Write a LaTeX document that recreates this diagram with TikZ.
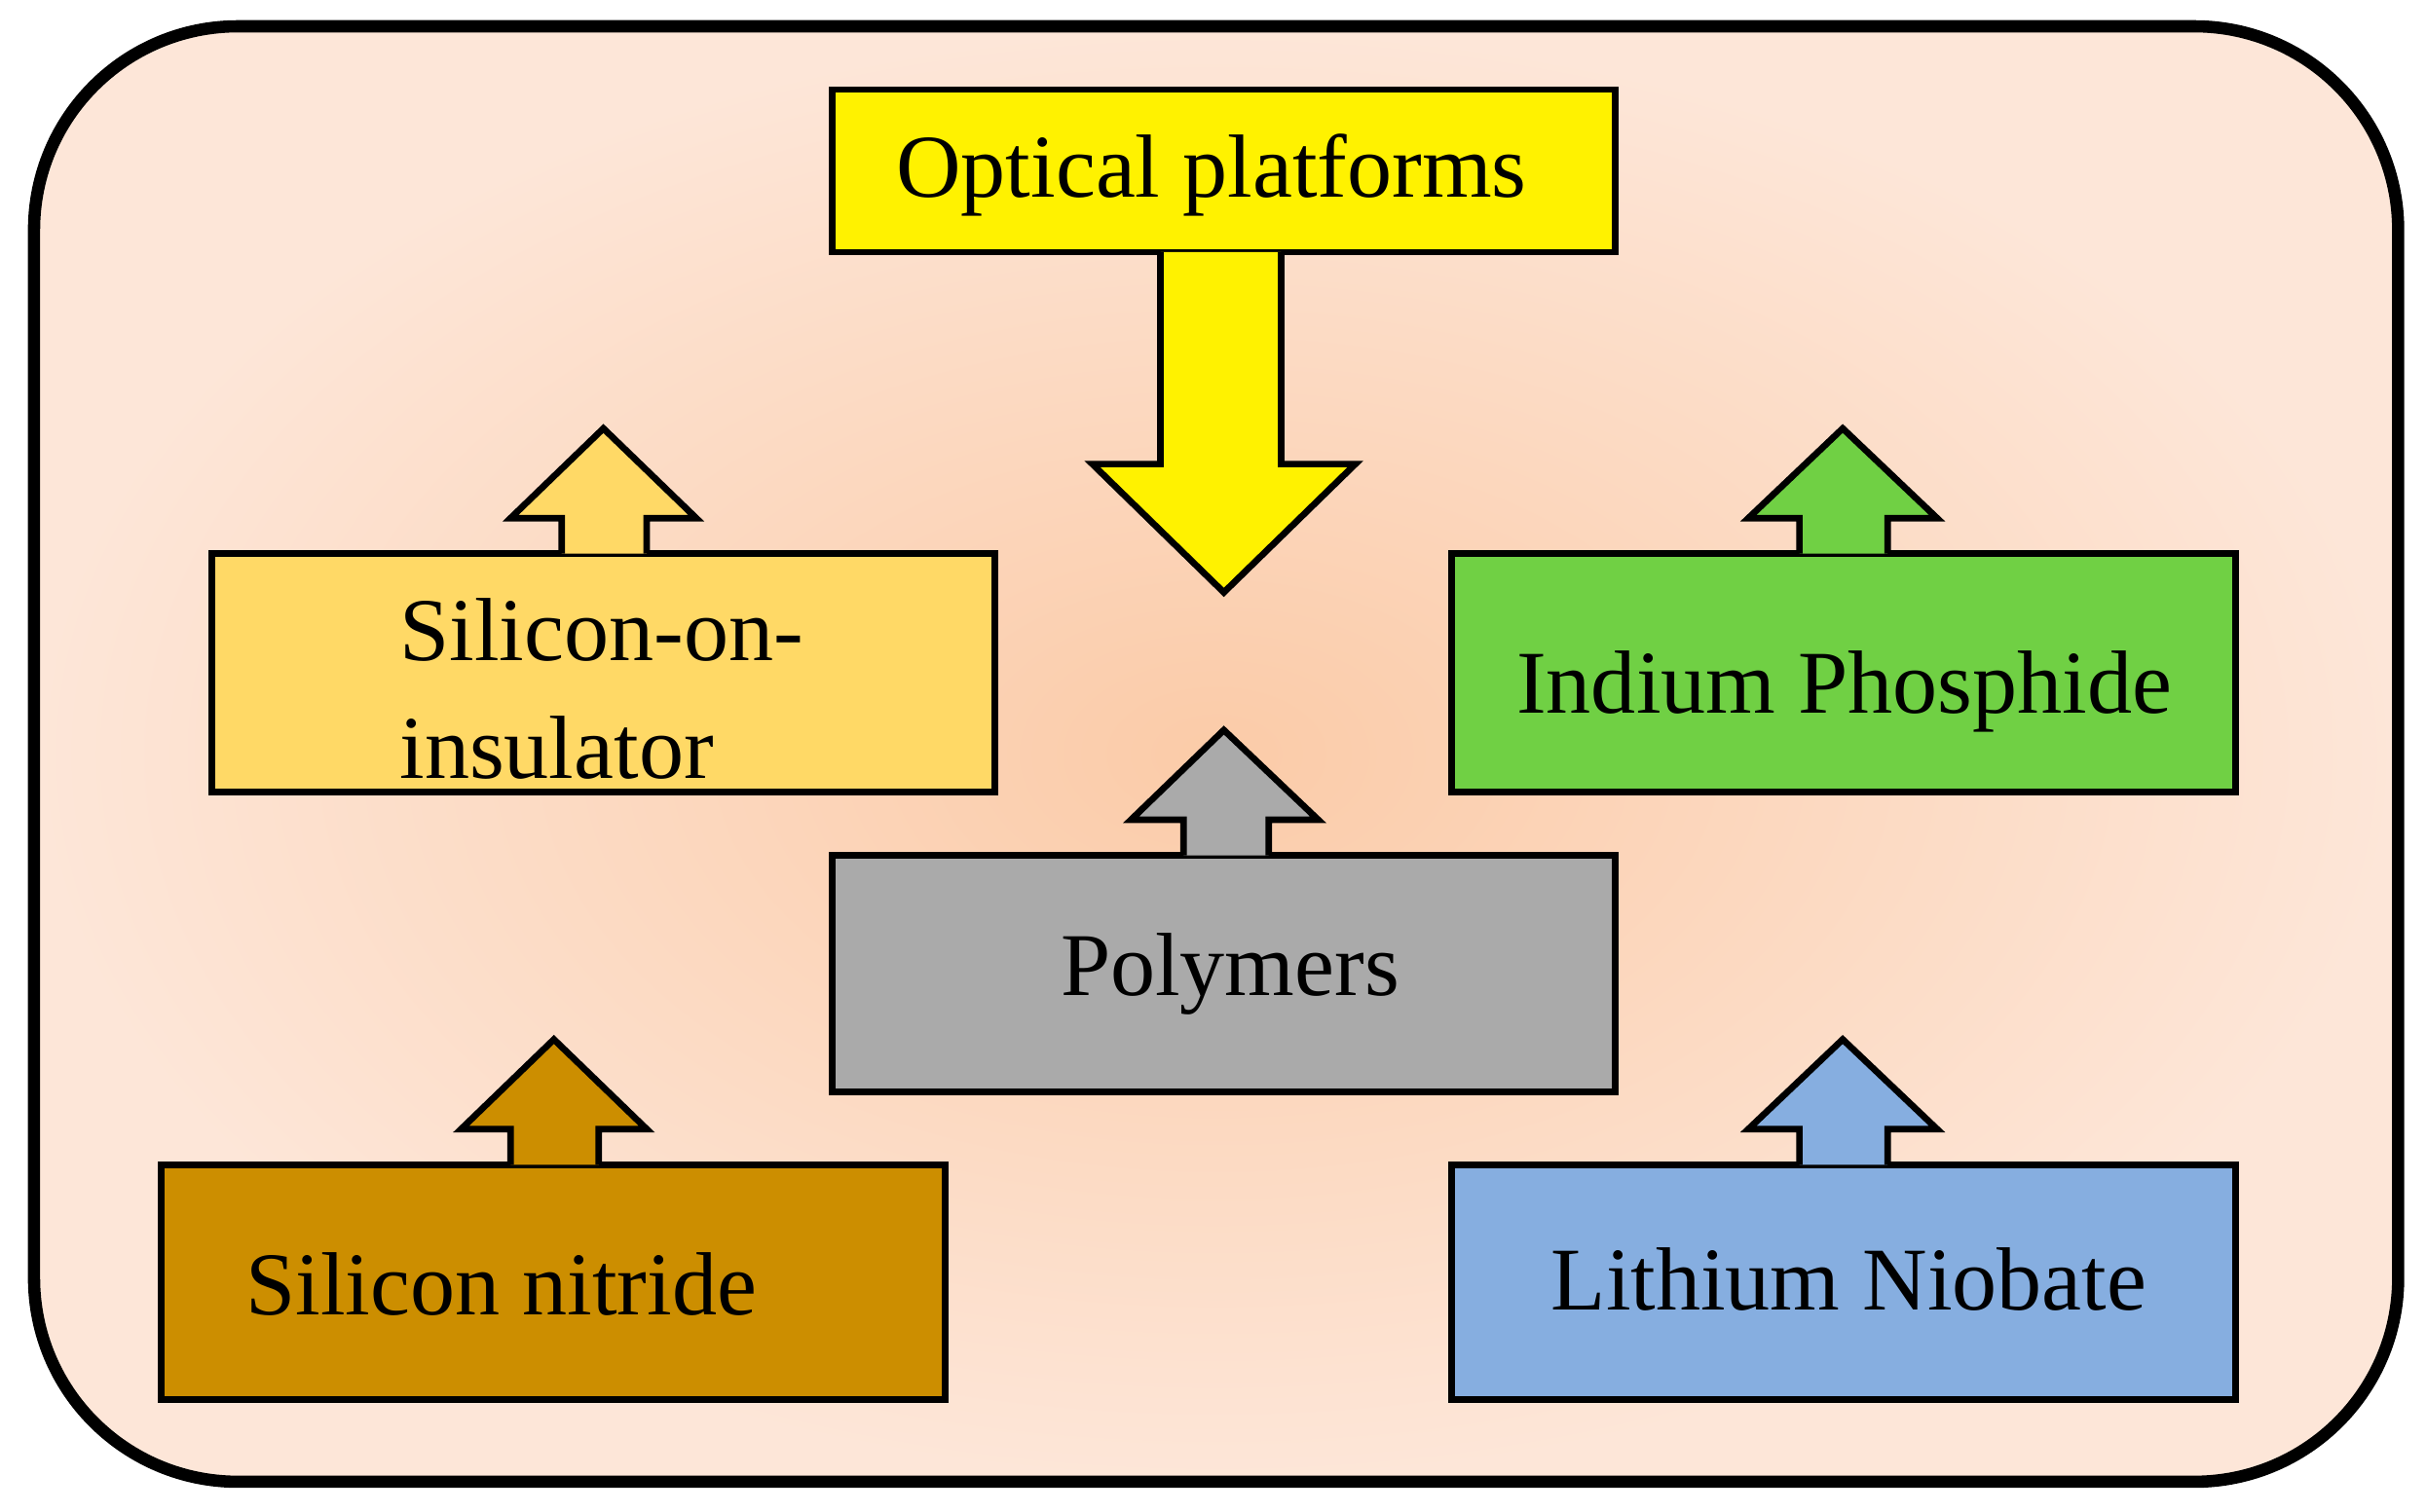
\documentclass[tikz,border=0pt]{standalone}
\usepackage{fontspec}
\setmainfont{Liberation Serif}
\begin{document}
\begin{tikzpicture}[x=0.02cm,y=-0.02cm,
  bx/.style={draw=black,line width=2.4pt,line join=miter},
  lbl/.style={font=\fontsize{33}{38}\selectfont,inner sep=0pt}]
\useasboundingbox (0,0) rectangle (1568,977);
\definecolor{peachin}{HTML}{FBCBA8}
\definecolor{peachout}{HTML}{FDE6D8}
\shade[inner color=peachin,outer color=peachout,rounded corners=75pt] (22,17) rectangle (1550,958);
\draw[line width=4.5pt,rounded corners=75pt] (22,17) rectangle (1550,958);
% optical platforms
\node[bx,fill=yellow,minimum width=506*0.02cm,minimum height=105*0.02cm,inner sep=0pt] (op) at (791,110.5) {};
\node[lbl] at (783,113) {Optical platforms};
\draw[bx,fill=yellow] (750,163) -- (750,300) -- (706,300) -- (791,383) -- (876,300) -- (828,300) -- (828,163);
% SOI
\draw[bx,fill={rgb,255:red,255;green,217;blue,102}] (137,358) rectangle (643,512);
\draw[bx,fill={rgb,255:red,255;green,217;blue,102}] (363,358) -- (363,335) -- (330,335) -- (390,277) -- (450,335) -- (418,335) -- (418,358);
\node[lbl,anchor=base west] (soi1) at (258,427) {Silicon-on-};
\node[lbl,anchor=base west] (soi2) at (258,503) {insulator};
% InP
\draw[bx,fill={rgb,255:red,112;green,208;blue,68}] (938,358) rectangle (1445,512);
\draw[bx,fill={rgb,255:red,112;green,208;blue,68}] (1163,358) -- (1163,335) -- (1130,335) -- (1191,277) -- (1252,335) -- (1220,335) -- (1220,358);
\node[lbl] (inp) at (1192,447) {Indium Phosphide};
% Polymers
\draw[bx,fill={rgb,255:red,170;green,170;blue,170}] (538,553) rectangle (1044,706);
\draw[bx,fill={rgb,255:red,170;green,170;blue,170}] (765,553) -- (765,530) -- (731,530) -- (791,472) -- (852,530) -- (820,530) -- (820,553);
\node[lbl] (poly) at (795,630) {Polymers};
% Silicon nitride
\draw[bx,fill={rgb,255:red,204;green,142;blue,0}] (104,753) rectangle (611,905);
\draw[bx,fill={rgb,255:red,204;green,142;blue,0}] (330,753) -- (330,730) -- (298,730) -- (358,672) -- (418,730) -- (387,730) -- (387,753);
\node[lbl] (sin) at (324,830) {Silicon nitride};
% Lithium niobate
\draw[bx,fill={rgb,255:red,134;green,174;blue,224}] (938,753) rectangle (1445,905);
\draw[bx,fill={rgb,255:red,134;green,174;blue,224}] (1163,753) -- (1163,730) -- (1130,730) -- (1191,672) -- (1252,730) -- (1220,730) -- (1220,753);
\node[lbl] (ln) at (1195,827) {Lithium Niobate};
\end{tikzpicture}
\end{document}
